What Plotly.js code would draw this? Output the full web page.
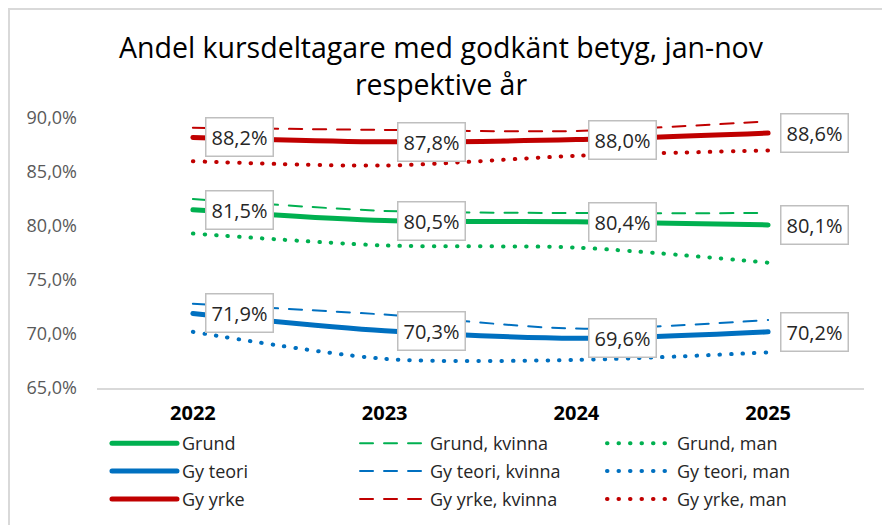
<!DOCTYPE html>
<html>
<head>
<meta charset="utf-8">
<script src="https://cdn.plot.ly/plotly-3.0.1.min.js"></script>
<style>
  html, body { margin: 0; padding: 0; background: #fff; }
  #wrap { position: relative; width: 882px; height: 525px; overflow: hidden; }
  #chart { position: absolute; left: 0; top: 0; width: 882px; height: 525px; }
  #frame { position: absolute; left: 8px; top: 8px; width: 900px; height: 600px;
           border: 2px solid #d9d9d9; pointer-events: none; }
  .scatterlayer path.js-line, .legendlines path { stroke-linecap: round; }
</style>
</head>
<body>
<div id="wrap">
  <div id="chart"></div>
  <div id="frame"></div>
</div>
<script>
const years = ['2022', '2023', '2024', '2025'];

const grund        = [81.5, 80.5, 80.4, 80.1];
const grundKvinna  = [82.5, 81.4, 81.2, 81.2];
const grundMan     = [79.3, 78.2, 78.0, 76.6];

const gyTeori       = [71.9, 70.3, 69.6, 70.2];
const gyTeoriKvinna = [72.8, 71.8, 70.5, 71.3];
const gyTeoriMan    = [70.2, 67.7, 67.6, 68.3];

const gyYrke       = [88.2, 87.8, 88.0, 88.6];
const gyYrkeKvinna = [89.1, 88.9, 88.8, 89.7];
const gyYrkeMan    = [86.0, 85.6, 86.5, 87.0];

const yTicks = [65, 70, 75, 80, 85, 90];

const GREEN = '#00B050', BLUE = '#0070C0', RED = '#C00000';
const FONT = '"Open Sans", Lato, sans-serif';

const pct = v => v.toFixed(1).replace('.', ',') + '%';

function solid(name, y, color, legend) {
  return { type: 'scatter', mode: 'lines', name, x: years, y, legend, legendgroup: name,
    line: { color, width: 5, shape: 'spline', smoothing: 0.8 }, hoverinfo: 'skip' };
}
function dashed(name, y, color, legend) {
  return { type: 'scatter', mode: 'lines', name, x: years, y, legend, legendgroup: name,
    line: { color, width: 2, dash: '13px,11px', shape: 'spline', smoothing: 0.8 }, hoverinfo: 'skip' };
}
function dotted(name, y, color, legend) {
  return { type: 'scatter', mode: 'lines', name, x: years, y, legend, legendgroup: name,
    line: { color, width: 4, dash: '0.5px,11px', shape: 'spline', smoothing: 0.8 }, hoverinfo: 'skip' };
}

const traces = [
  solid('Grund', grund, GREEN, 'legend'),
  solid('Gy teori', gyTeori, BLUE, 'legend'),
  solid('Gy yrke', gyYrke, RED, 'legend'),
  dashed('Grund, kvinna', grundKvinna, GREEN, 'legend2'),
  dashed('Gy teori, kvinna', gyTeoriKvinna, BLUE, 'legend2'),
  dashed('Gy yrke, kvinna', gyYrkeKvinna, RED, 'legend2'),
  dotted('Grund, man', grundMan, GREEN, 'legend3'),
  dotted('Gy teori, man', gyTeoriMan, BLUE, 'legend3'),
  dotted('Gy yrke, man', gyYrkeMan, RED, 'legend3')
];

const labelled = [grund, gyTeori, gyYrke];
const annotations = [];
labelled.forEach(series => {
  series.forEach((v, i) => {
    annotations.push({
      x: i, y: v, xref: 'x', yref: 'y',
      text: pct(v),
      showarrow: false, xanchor: 'left', yanchor: 'middle', xshift: 12,
      font: { family: FONT, size: 20, color: '#262626' },
      bgcolor: '#ffffff', bordercolor: '#bfbfbf', borderwidth: 1.5, borderpad: 5
    });
  });
});

function legendAt(x) {
  return {
    x, xref: 'paper', xanchor: 'left', y: -0.137, yref: 'paper', yanchor: 'top',
    orientation: 'v', tracegroupgap: 1.5, itemwidth: 65, bgcolor: 'rgba(0,0,0,0)',
    font: { family: FONT, size: 18, color: '#262626' }
  };
}

const layout = {
  width: 882, height: 525,
  margin: { l: 97, r: 18, t: 118, b: 137, autoexpand: false },
  paper_bgcolor: '#ffffff', plot_bgcolor: '#ffffff',
  separators: ', ',
  showlegend: true,
  title: {
    text: 'Andel kursdeltagare med godkänt betyg, jan-nov<br>respektive år',
    x: 0.5, xref: 'container', xanchor: 'center',
    y: 0.89, yref: 'container', yanchor: 'top',
    font: { family: FONT, size: 28.5, color: '#000000' }
  },
  xaxis: {
    type: 'category', range: [-0.5, 3.5],
    showline: true, linecolor: '#d9d9d9', linewidth: 1.5,
    showgrid: false, zeroline: false, ticks: '',
    ticklabelstandoff: 6,
    tickfont: { family: FONT, size: 20, color: '#000000', weight: 700 }
  },
  yaxis: {
    range: [65, 90], tickmode: 'array', tickvals: yTicks, ticktext: yTicks.map(pct),
    showgrid: false, zeroline: false, showline: false, ticks: '',
    ticklabelstandoff: 19,
    tickfont: { family: FONT, size: 18, color: '#595959' }
  },
  legend: legendAt(0.0130),
  legend2: legendAt(0.3364),
  legend3: legendAt(0.6584),
  annotations
};

Plotly.newPlot('chart', traces, layout, { staticPlot: true, displayModeBar: false });
</script>
</body>
</html>
